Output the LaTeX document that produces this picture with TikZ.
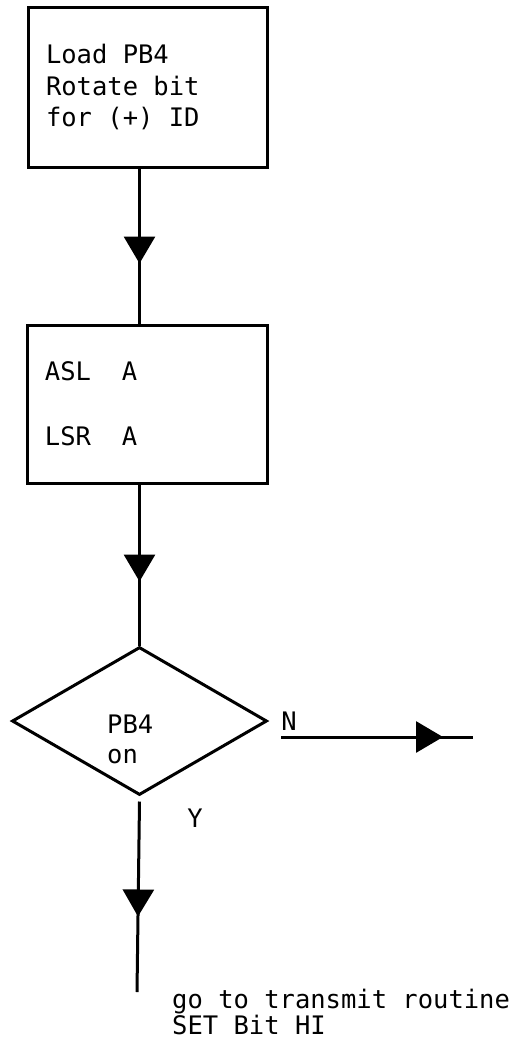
\documentclass[tikz,border=0pt]{standalone}
\usepackage{fontspec}
\setmonofont{DejaVu Sans Mono}
\usetikzlibrary{arrows.meta,decorations.markings,shapes.geometric}
\tikzset{
  txt/.style={font=\ttfamily\fontsize{25.5}{31.5}\selectfont, inner sep=0pt},
  procbox/.style={draw, line width=3pt, inner xsep=18pt, inner ysep=0pt, align=left,
    font=\ttfamily\fontsize{25.5}{31.5}\selectfont,
    execute at begin node={\spaceskip=0pt\xspaceskip=0pt}},
  decbox/.style={draw, line width=3pt, diamond, inner sep=0pt},
  flow/.style={line width=3pt},
  arrowat/.style={postaction={decorate}, decoration={markings,
    mark=at position #1 with {\arrow{Triangle[width=31pt,length=27pt]}}}}
}
\begin{document}
\begin{tikzpicture}[x=1pt,y=-1pt]
\useasboundingbox (0,0) rectangle (524,1053);
\node[procbox, text width=203pt, minimum height=160pt] (b1) at (147.5,87)
  {Load PB4\\Rotate bit\\for (+) ID};
\node[procbox, text width=204pt, minimum height=158pt,
  font=\ttfamily\fontsize{25.5}{65}\selectfont] (b2) at (147,404)
  {ASL\ \ A\\LSR\ \ A};
\node[decbox, minimum width=255pt, minimum height=148pt] (d) at (139.5,721) {};
\node[txt, align=left, anchor=west, font=\ttfamily\fontsize{25.5}{30}\selectfont] (dt) at (107,739) {PB4\\on};
\node[txt] (nl) at (289,721) {N};
\node[txt] (yl) at (195,818) {Y};
\coordinate (nstart) at (281,737);
\coordinate (nend) at (473,737);
\coordinate (yend) at (137,992);
\node[txt, align=left, anchor=west, font=\ttfamily\fontsize{25.5}{21}\selectfont] (goto) at (172,1012)
  {go to transmit routine\\SET Bit HI};
\draw[flow, arrowat=95pt] (b1.south -| d.north) -- (b2.north -| d.north);
\draw[flow, arrowat=97pt] (b2.south -| d.north) -- (d.north);
\draw[flow, arrowat=162pt] (nstart) -- (nend);
\draw[flow, arrowat=115pt] ([yshift=-5pt]d.south) -- (yend);
\end{tikzpicture}
\end{document}
